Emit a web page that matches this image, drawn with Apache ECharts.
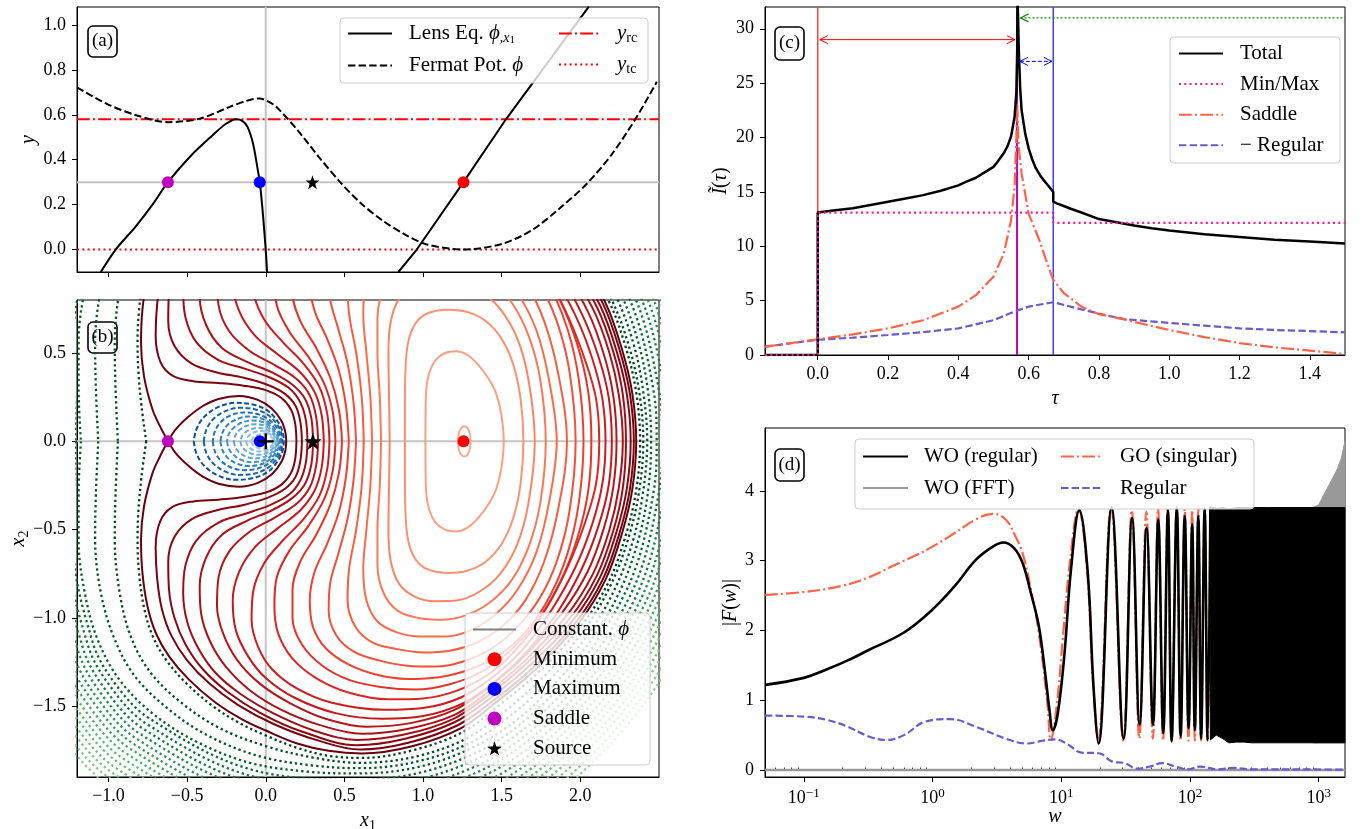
<!DOCTYPE html>
<html><head><meta charset="utf-8">
<script src="https://cdn.jsdelivr.net/npm/echarts@6/dist/echarts.min.js"></script>
<style>html,body{margin:0;padding:0;background:#fff}#c{width:1364px;height:829px}</style>
</head><body><div id="c"></div>
<script>
// ---------------- DATA ----------------
// (a) lens equation / Fermat potential along x1 (y_source = 0.3)
const lensEqLeft = [[-1.049,-0.1],[-0.954,0.0],[-0.83,0.1],[-0.72,0.2],[-0.622,0.3],[-0.473,0.42],[-0.338,0.509],[-0.257,0.558],[-0.189,0.58],[-0.149,0.573],[-0.116,0.546],[-0.081,0.472],[-0.054,0.368],[-0.038,0.30],[-0.022,0.189],[-0.008,0.07],[0.003,-0.034],[0.008,-0.1]];
const lensEqRight = [[0.843,-0.1],[0.96,0.0],[1.257,0.3],[1.527,0.58],[2.054,1.082]];
const fermatPot = [[-1.2,0.722],[-1.014,0.65],[-0.824,0.598],[-0.622,0.567],[-0.419,0.583],[-0.23,0.635],[-0.122,0.662],[-0.04,0.673],[0.014,0.66],[0.068,0.635],[0.203,0.531],[0.338,0.412],[0.473,0.30],[0.608,0.204],[0.743,0.129],[0.878,0.07],[1.014,0.025],[1.257,0.0],[1.5,0.025],[1.689,0.085],[1.878,0.189],[2.041,0.293],[2.203,0.427],[2.365,0.598],[2.486,0.747]];
const yRadialCaustic = 0.58;
const yTangentialCaustic = 0.0;
const sourceY = 0.3;
const imgMin = [1.257, 0.3], imgMax = [-0.038, 0.3], imgSaddle = [-0.622, 0.3], srcA = [0.297, 0.3];

// (b) stationary points in the lens plane
const bMin = [1.257, 0], bMax = [-0.038, 0], bSaddle = [-0.622, 0], bSource = [0.3, 0], bLens = [0, 0];
// contours, lower half (x2<=0), mirrored for the upper half
const redContoursLower = [
 [[1.222,0],[1.227,-0.045],[1.242,-0.075],[1.262,-0.086],[1.282,-0.075],[1.297,-0.045],[1.302,0]],
 [[1.015,0],[1.016,-0.15],[1.02,-0.29],[1.04,-0.39],[1.08,-0.46],[1.14,-0.5],[1.21,-0.51],[1.28,-0.49],[1.354,-0.43],[1.42,-0.35],[1.465,-0.27],[1.498,-0.15],[1.513,0]],
 [[0.885,0],[0.885,-0.2],[0.888,-0.4],[0.905,-0.56],[0.95,-0.665],[1.03,-0.725],[1.163,-0.745],[1.29,-0.73],[1.4,-0.68],[1.5,-0.58],[1.575,-0.43],[1.62,-0.24],[1.638,0]],
 [[0.788,0],[0.784,-0.25],[0.78,-0.5],[0.795,-0.68],[0.85,-0.81],[0.95,-0.88],[1.08,-0.905],[1.22,-0.9],[1.36,-0.85],[1.49,-0.75],[1.6,-0.58],[1.67,-0.35],[1.71,0]],
 [[0.733,0],[0.725,-0.25],[0.71,-0.5],[0.71,-0.7],[0.75,-0.86],[0.84,-0.96],[0.97,-1.0],[1.12,-1.01],[1.27,-0.985],[1.42,-0.915],[1.56,-0.79],[1.67,-0.6],[1.745,-0.35],[1.78,0]],
 [[0.676,0],[0.665,-0.25],[0.64,-0.5],[0.62,-0.72],[0.64,-0.9],[0.71,-1.02],[0.83,-1.08],[0.98,-1.105],[1.14,-1.105],[1.3,-1.07],[1.46,-0.98],[1.6,-0.84],[1.72,-0.63],[1.8,-0.35],[1.85,0]],
 [[0.623,0],[0.61,-0.25],[0.575,-0.5],[0.53,-0.72],[0.52,-0.9],[0.57,-1.05],[0.68,-1.14],[0.83,-1.175],[1.0,-1.195],[1.17,-1.185],[1.34,-1.14],[1.5,-1.05],[1.65,-0.9],[1.77,-0.68],[1.86,-0.38],[1.915,0]],
 [[0.574,0],[0.558,-0.22],[0.52,-0.44],[0.46,-0.64],[0.41,-0.8],[0.4,-0.96],[0.45,-1.1],[0.56,-1.19],[0.72,-1.24],[0.9,-1.27],[1.08,-1.275],[1.26,-1.245],[1.44,-1.17],[1.6,-1.05],[1.74,-0.89],[1.85,-0.68],[1.93,-0.4],[1.97,0]],
 [[0.528,0],[0.51,-0.2],[0.465,-0.4],[0.39,-0.58],[0.31,-0.74],[0.28,-0.9],[0.3,-1.05],[0.38,-1.17],[0.52,-1.26],[0.7,-1.32],[0.9,-1.345],[1.1,-1.335],[1.3,-1.29],[1.5,-1.2],[1.67,-1.06],[1.81,-0.87],[1.92,-0.63],[1.99,-0.35],[2.02,0]],
 [[0.485,0],[0.465,-0.18],[0.41,-0.36],[0.32,-0.53],[0.22,-0.68],[0.17,-0.84],[0.17,-1.0],[0.23,-1.15],[0.36,-1.27],[0.53,-1.35],[0.73,-1.39],[0.95,-1.405],[1.17,-1.375],[1.38,-1.3],[1.56,-1.18],[1.73,-1.01],[1.87,-0.8],[1.98,-0.55],[2.05,-0.28],[2.07,0]],
 [[0.443,0],[0.425,-0.17],[0.37,-0.33],[0.27,-0.48],[0.15,-0.62],[0.07,-0.77],[0.055,-0.93],[0.08,-1.09],[0.17,-1.23],[0.32,-1.34],[0.52,-1.42],[0.78,-1.46],[1.0,-1.455],[1.22,-1.41],[1.43,-1.31],[1.61,-1.16],[1.78,-0.95],[1.92,-0.71],[2.03,-0.46],[2.1,-0.24],[2.12,0]],
 [[0.405,0],[0.39,-0.16],[0.34,-0.31],[0.24,-0.44],[0.11,-0.56],[-0.01,-0.69],[-0.08,-0.85],[-0.09,-1.01],[-0.05,-1.16],[0.04,-1.29],[0.2,-1.4],[0.42,-1.48],[0.76,-1.52],[1.0,-1.51],[1.24,-1.45],[1.45,-1.33],[1.64,-1.17],[1.82,-0.95],[1.97,-0.71],[2.075,-0.47],[2.14,-0.24],[2.16,0]],
 [[0.369,0],[0.355,-0.15],[0.31,-0.28],[0.22,-0.39],[0.08,-0.49],[-0.07,-0.6],[-0.17,-0.74],[-0.21,-0.9],[-0.19,-1.07],[-0.11,-1.22],[0.0,-1.34],[0.18,-1.45],[0.45,-1.54],[0.74,-1.57],[1.0,-1.555],[1.26,-1.48],[1.47,-1.35],[1.67,-1.18],[1.86,-0.96],[2.01,-0.72],[2.115,-0.48],[2.18,-0.25],[2.2,0]],
 [[0.333,0],[0.32,-0.14],[0.28,-0.26],[0.2,-0.35],[0.06,-0.43],[-0.1,-0.51],[-0.23,-0.62],[-0.3,-0.77],[-0.31,-0.93],[-0.27,-1.09],[-0.18,-1.24],[-0.04,-1.37],[0.15,-1.48],[0.38,-1.57],[0.64,-1.615],[0.92,-1.595],[1.2,-1.52],[1.42,-1.39],[1.64,-1.22],[1.88,-0.975],[2.045,-0.74],[2.15,-0.49],[2.21,-0.255],[2.23,0]],
 [[0.3,0],[0.29,-0.13],[0.25,-0.24],[0.17,-0.32],[0.04,-0.39],[-0.12,-0.45],[-0.28,-0.53],[-0.38,-0.66],[-0.42,-0.82],[-0.41,-0.98],[-0.35,-1.14],[-0.25,-1.28],[-0.1,-1.41],[0.1,-1.52],[0.34,-1.605],[0.61,-1.655],[0.9,-1.628],[1.2,-1.548],[1.42,-1.415],[1.65,-1.24],[1.91,-0.99],[2.08,-0.75],[2.185,-0.5],[2.245,-0.26],[2.27,0]],
 [[0.265,0],[0.255,-0.12],[0.22,-0.22],[0.15,-0.3],[0.03,-0.36],[-0.13,-0.41],[-0.3,-0.46],[-0.44,-0.56],[-0.51,-0.7],[-0.525,-0.86],[-0.5,-1.02],[-0.43,-1.17],[-0.32,-1.31],[-0.16,-1.43],[0.05,-1.54],[0.3,-1.635],[0.58,-1.69],[0.88,-1.66],[1.19,-1.572],[1.42,-1.435],[1.66,-1.255],[1.935,-1.0],[2.105,-0.76],[2.21,-0.505],[2.27,-0.265],[2.29,0]],
 [[0.23,0],[0.22,-0.11],[0.19,-0.2],[0.12,-0.27],[0.01,-0.32],[-0.14,-0.36],[-0.31,-0.39],[-0.47,-0.44],[-0.58,-0.54],[-0.62,-0.68],[-0.615,-0.84],[-0.58,-1.0],[-0.51,-1.15],[-0.4,-1.29],[-0.24,-1.42],[-0.03,-1.54],[0.22,-1.64],[0.58,-1.72],[0.88,-1.685],[1.2,-1.59],[1.43,-1.452],[1.68,-1.268],[1.955,-1.01],[2.125,-0.77],[2.23,-0.512],[2.295,-0.27],[2.32,0]],
 [[0.195,0],[0.187,-0.1],[0.16,-0.18],[0.1,-0.245],[0.0,-0.29],[-0.14,-0.315],[-0.3,-0.33],[-0.46,-0.34],[-0.59,-0.37],[-0.67,-0.45],[-0.7,-0.6],[-0.69,-0.78],[-0.66,-0.95],[-0.6,-1.1],[-0.5,-1.24],[-0.36,-1.37],[-0.18,-1.49],[0.05,-1.6],[0.32,-1.69],[0.6,-1.745],[0.9,-1.708],[1.22,-1.607],[1.45,-1.465],[1.7,-1.28],[1.975,-1.02],[2.145,-0.777],[2.25,-0.516],[2.315,-0.27],[2.34,0]]
];
const saddleOuterLower = [[-0.622,0],[-0.675,-0.09],[-0.72,-0.18],[-0.774,-0.368],[-0.793,-0.556],[-0.784,-0.745],[-0.752,-0.934],[-0.699,-1.085],[-0.615,-1.217],[-0.488,-1.349],[-0.318,-1.48],[-0.148,-1.575],[0,-1.637],[0.2,-1.71],[0.4,-1.752],[0.61,-1.767],[0.93,-1.726],[1.248,-1.62],[1.46,-1.48],[1.714,-1.292],[1.99,-1.028],[2.16,-0.783],[2.265,-0.52],[2.33,-0.273],[2.355,0]];
const saddleInnerLower = [[-0.622,0],[-0.57,-0.07],[-0.49,-0.14],[-0.4,-0.2],[-0.3,-0.24],[-0.17,-0.257],[-0.05,-0.235],[0.04,-0.185],[0.1,-0.115],[0.125,-0.05],[0.13,0]];
const blueContoursLower = [
 [[-0.458,0],[-0.44,-0.07],[-0.39,-0.14],[-0.3,-0.195],[-0.19,-0.218],[-0.08,-0.208],[0.01,-0.175],[0.07,-0.12],[0.105,-0.06],[0.115,0]],
 [[-0.394,0],[-0.378,-0.065],[-0.335,-0.125],[-0.26,-0.17],[-0.17,-0.19],[-0.07,-0.182],[0.01,-0.152],[0.065,-0.105],[0.097,-0.052],[0.106,0]],
 [[-0.337,0],[-0.323,-0.058],[-0.285,-0.11],[-0.22,-0.148],[-0.14,-0.163],[-0.06,-0.156],[0.01,-0.13],[0.06,-0.09],[0.088,-0.045],[0.097,0]],
 [[-0.288,0],[-0.275,-0.05],[-0.24,-0.095],[-0.18,-0.127],[-0.11,-0.14],[-0.04,-0.133],[0.015,-0.11],[0.055,-0.075],[0.08,-0.038],[0.088,0]],
 [[-0.246,0],[-0.234,-0.043],[-0.2,-0.08],[-0.15,-0.107],[-0.09,-0.118],[-0.03,-0.112],[0.02,-0.092],[0.052,-0.062],[0.073,-0.032],[0.08,0]],
 [[-0.203,0],[-0.192,-0.036],[-0.165,-0.066],[-0.12,-0.088],[-0.07,-0.097],[-0.02,-0.092],[0.022,-0.075],[0.05,-0.05],[0.066,-0.026],[0.072,0]],
 [[-0.161,0],[-0.152,-0.029],[-0.128,-0.052],[-0.093,-0.069],[-0.053,-0.076],[-0.012,-0.072],[0.022,-0.058],[0.046,-0.039],[0.059,-0.02],[0.064,0]],
 [[-0.125,0],[-0.117,-0.022],[-0.098,-0.04],[-0.07,-0.053],[-0.038,-0.058],[-0.005,-0.055],[0.022,-0.044],[0.041,-0.029],[0.052,-0.015],[0.056,0]],
 [[-0.091,0],[-0.085,-0.016],[-0.07,-0.029],[-0.048,-0.038],[-0.023,-0.042],[0.003,-0.04],[0.024,-0.032],[0.038,-0.021],[0.046,-0.011],[0.048,0]]
];
const greenContoursLower = [
 [[-0.76,0],[-0.79,-0.2],[-0.81,-0.4],[-0.815,-0.56],[-0.805,-0.75],[-0.773,-0.945],[-0.72,-1.1],[-0.635,-1.235],[-0.505,-1.37],[-0.33,-1.503],[-0.155,-1.6],[0,-1.665],[0.2,-1.735],[0.4,-1.78],[0.61,-1.792],[0.93,-1.75],[1.255,-1.645],[1.475,-1.5],[1.73,-1.31],[2.005,-1.045],[2.18,-0.795],[2.29,-0.528],[2.355,-0.277],[2.38,0]],
 [[-0.94,0],[-0.955,-0.3],[-0.96,-0.55],[-0.93,-0.85],[-0.86,-1.1],[-0.74,-1.3],[-0.55,-1.47],[-0.3,-1.62],[0,-1.725],[0.3,-1.79],[0.6,-1.82],[0.95,-1.785],[1.28,-1.68],[1.53,-1.52],[1.78,-1.32],[2.03,-1.06],[2.2,-0.8],[2.31,-0.535],[2.375,-0.275],[2.40,0]],
 [[-1.065,0],[-1.08,-0.3],[-1.085,-0.55],[-1.05,-0.85],[-0.97,-1.1],[-0.84,-1.32],[-0.64,-1.5],[-0.38,-1.66],[-0.05,-1.78],[0.3,-1.835],[0.6,-1.85],[0.95,-1.815],[1.29,-1.71],[1.56,-1.55],[1.81,-1.345],[2.06,-1.08],[2.23,-0.815],[2.34,-0.545],[2.4,-0.28],[2.425,0]],
 [[-1.175,0],[-1.19,-0.3],[-1.19,-0.56],[-1.15,-0.86],[-1.07,-1.12],[-0.93,-1.35],[-0.72,-1.54],[-0.44,-1.7],[-0.1,-1.82],[0.27,-1.87],[0.6,-1.88],[0.96,-1.845],[1.3,-1.74],[1.59,-1.58],[1.84,-1.37],[2.09,-1.1],[2.26,-0.83],[2.37,-0.555],[2.43,-0.285],[2.45,0]],
 [[-1.21,0],[-1.225,-0.564],[-1.100,-1.138],[-0.955,-1.375],[-0.739,-1.569],[-0.107,-1.854],[0.6,-1.915],[1.314,-1.772],[1.864,-1.396],[2.291,-0.846],[2.465,-0.289],[2.485,0]],
 [[-1.245,0],[-1.26,-0.567],[-1.130,-1.155],[-0.979,-1.399],[-0.759,-1.598],[-0.114,-1.889],[0.6,-1.95],[1.328,-1.804],[1.888,-1.421],[2.322,-0.863],[2.499,-0.293],[2.52,0]],
 [[-1.28,0],[-1.294,-0.571],[-1.161,-1.173],[-1.004,-1.424],[-0.778,-1.628],[-0.121,-1.923],[0.6,-1.985],[1.342,-1.836],[1.912,-1.447],[2.353,-0.879],[2.534,-0.298],[2.555,0]],
 [[-1.315,0],[-1.329,-0.574],[-1.191,-1.191],[-1.029,-1.449],[-0.797,-1.657],[-0.128,-1.957],[0.6,-2.02],[1.356,-1.868],[1.935,-1.472],[2.383,-0.896],[2.569,-0.302],[2.59,0]],
 [[-1.35,0],[-1.364,-0.578],[-1.221,-1.209],[-1.054,-1.474],[-0.817,-1.686],[-0.135,-1.992],[0.6,-2.055],[1.370,-1.9],[1.959,-1.498],[2.414,-0.912],[2.603,-0.306],[2.625,0]],
 [[-1.385,0],[-1.399,-0.581],[-1.251,-1.226],[-1.078,-1.498],[-0.836,-1.715],[-0.142,-2.026],[0.6,-2.09],[1.384,-1.933],[1.983,-1.524],[2.445,-0.929],[2.638,-0.31],[2.66,0]],
 [[-1.42,0],[-1.434,-0.585],[-1.281,-1.244],[-1.103,-1.523],[-0.855,-1.744],[-0.149,-2.06],[0.6,-2.125],[1.398,-1.965],[2.007,-1.549],[2.476,-0.945],[2.673,-0.314],[2.695,0]],
 [[-1.455,0],[-1.469,-0.588],[-1.311,-1.262],[-1.128,-1.548],[-0.875,-1.774],[-0.156,-2.094],[0.6,-2.16],[1.412,-1.997],[2.031,-1.575],[2.507,-0.962],[2.707,-0.319],[2.73,0]],
 [[-1.49,0],[-1.503,-0.592],[-1.342,-1.28],[-1.153,-1.573],[-0.894,-1.803],[-0.163,-2.129],[0.6,-2.195],[1.426,-2.029],[2.055,-1.601],[2.538,-0.978],[2.742,-0.323],[2.765,0]],
 [[-1.525,0],[-1.538,-0.595],[-1.372,-1.297],[-1.177,-1.597],[-0.913,-1.832],[-0.17,-2.163],[0.6,-2.23],[1.44,-2.061],[2.079,-1.626],[2.569,-0.995],[2.777,-0.327],[2.8,0]],
 [[-1.56,0],[-1.573,-0.599],[-1.402,-1.315],[-1.202,-1.622],[-0.933,-1.861],[-0.177,-2.197],[0.6,-2.265],[1.454,-2.093],[2.103,-1.652],[2.6,-1.011],[2.811,-0.331],[2.835,0]],
 [[-1.595,0],[-1.608,-0.602],[-1.432,-1.333],[-1.227,-1.647],[-0.952,-1.89],[-0.184,-2.232],[0.6,-2.3],[1.468,-2.125],[2.126,-1.677],[2.63,-1.028],[2.846,-0.335],[2.87,0]],
 [[-1.63,0],[-1.643,-0.606],[-1.462,-1.351],[-1.252,-1.672],[-0.971,-1.919],[-0.191,-2.266],[0.6,-2.335],[1.482,-2.157],[2.15,-1.703],[2.661,-1.044],[2.88,-0.34],[2.905,0]],
 [[-1.665,0],[-1.678,-0.609],[-1.492,-1.368],[-1.276,-1.696],[-0.99,-1.949],[-0.198,-2.3],[0.6,-2.37],[1.496,-2.189],[2.174,-1.729],[2.692,-1.061],[2.915,-0.344],[2.94,0]]
];

// (c) I(tau)
const cTotal = [[-0.15,0],[0,0],[0,13.1],[0.05,13.3],[0.1,13.5],[0.15,13.8],[0.2,14.1],[0.25,14.4],[0.3,14.7],[0.35,15.1],[0.4,15.6],[0.42,15.9],[0.45,16.3],[0.47,16.7],[0.5,17.3],[0.51,17.7],[0.53,18.6],[0.54,19.2],[0.55,20.1],[0.56,21.9],[0.565,24.1],[0.5675,28],[0.5685,33],[0.5695,33],[0.572,28],[0.576,24.5],[0.58,22.5],[0.59,20.4],[0.6,19.0],[0.61,18.0],[0.62,17.2],[0.635,16.4],[0.65,15.8],[0.67,15.0],[0.67,14.1],[0.68,13.95],[0.7,13.7],[0.72,13.45],[0.75,13.1],[0.8,12.5],[0.85,12.2],[0.9,11.9],[0.95,11.65],[1.0,11.45],[1.1,11.1],[1.2,10.85],[1.3,10.6],[1.4,10.43],[1.5,10.25]];
const cMinMax = [[-0.15,0],[0,0],[0,13.1],[0.67,13.1],[0.67,12.15],[1.5,12.15]];
const cSaddle = [[-0.15,0.75],[0,1.45],[0.1,1.9],[0.2,2.45],[0.3,3.2],[0.4,4.45],[0.45,5.5],[0.5,7.2],[0.53,9.4],[0.55,12.4],[0.56,15.5],[0.565,19.8],[0.567,23.2],[0.572,19.0],[0.58,16.7],[0.6,13.0],[0.63,10.6],[0.65,8.7],[0.67,6.9],[0.7,5.7],[0.75,4.45],[0.8,3.75],[0.872,3.28],[0.9,3.05],[1.0,2.3],[1.1,1.65],[1.2,1.1],[1.3,0.7],[1.4,0.4],[1.5,0.1]];
const cRegular = [[-0.15,0.77],[0,1.4],[0.1,1.6],[0.2,1.84],[0.3,2.1],[0.4,2.45],[0.5,3.2],[0.56,4.0],[0.6,4.45],[0.67,4.85],[0.75,4.2],[0.8,3.8],[0.872,3.3],[1.0,2.95],[1.1,2.7],[1.2,2.45],[1.3,2.3],[1.4,2.2],[1.5,2.08]];
const cCritTau = [0, 0.567, 0.67];           // min, saddle, max time delays
const cArrowMinSaddle = [[0.006, 0.561, 29]];
const cArrowSaddleMax = [[0.575, 0.666, 27]];
const cArrowTail = [[0.577, 1.5, 31]];

// (d) |F(w)|
const dWO = [[0.05,1.22],[0.1,1.32],[0.15,1.44],[0.22,1.57],[0.32,1.72],[0.6,1.97],[1.0,2.3],[1.48,2.63],[2.17,3.01],[2.94,3.2],[3.55,3.26],[4.3,3.18],[5.0,2.97],[5.8,2.54],[6.7,2.06],[7.5,1.39],[8.1,0.86],[8.6,0.57],[9.4,0.81],[10.6,1.67],[11.9,2.87],[13.8,3.72],[16.0,2.87],[17.8,1.2],[19.5,0.38],[24.6,3.76],[30.5,0.45],[35.5,3.61],[40.6,0.65],[46,3.47],[51.6,0.65],[56.7,3.59],[62,0.53],[67.4,3.72],[72,0.41],[79,3.76],[84.6,0.48],[91,3.64],[97.5,0.6],[104,3.52],[109,0.57],[116,3.64],[122,0.45],[130,3.74],[137,0.43],[144,3.77]];
const dWOBandW = [144,160,180,200,230,260,300,400,600,1000,1600];
const dWOBandLow = [0.43,0.5,0.45,0.39,0.4,0.4,0.39,0.39,0.39,0.39,0.39];
const dWOBandHigh = [3.77,3.75,3.76,3.74,3.76,3.76,3.76,3.76,3.76,3.76,3.76];
const dFFTBandW = [900,1000,1100,1200,1300,1400,1500,1600];
const dFFTBandLow = [0.39,0.39,0.39,0.39,0.39,0.39,0.39,0.39];
const dFFTBandHigh = [3.76,3.8,3.95,4.08,4.2,4.32,4.47,4.72];
const dFFTZero = [[0.05,0],[1600,0]];
const dGO = [[0.05,2.51],[0.1,2.55],[0.2,2.64],[0.32,2.76],[0.5,2.93],[0.75,3.08],[1,3.2],[1.5,3.4],[2.17,3.59],[2.94,3.67],[3.7,3.59],[4.4,3.35],[5,3.11],[5.8,2.6],[6.7,1.96],[7.8,0.96],[8.3,0.43],[9.2,0.9],[10.3,1.9],[11.7,3.0],[13.6,3.74],[15.8,2.9],[17.6,1.3],[19.3,0.42],[24.4,3.76],[30.3,0.42],[35.3,3.72],[40.4,0.45],[45.8,3.7],[51.5,0.45],[56.5,3.74],[61.8,0.42],[67.2,3.76],[72,0.42],[78.8,3.76],[84.5,0.42],[91,3.74],[97.3,0.42],[104,3.72],[109,0.42],[116,3.74],[122,0.42],[130,3.76],[137,0.42],[144,3.76]];
const dRegular = [[0.05,0.78],[0.1,0.765],[0.15,0.72],[0.22,0.62],[0.32,0.48],[0.44,0.43],[0.6,0.5],[0.87,0.69],[1.37,0.73],[2.17,0.62],[3.7,0.45],[5.4,0.38],[7.2,0.42],[9,0.44],[11.4,0.36],[14.3,0.25],[19.6,0.24],[24.9,0.12],[31,0.1],[39,0.02],[49,0.05],[61,0.1],[77,0.05],[96,0.01],[120,0.05],[163,0.01],[220,0.03],[300,0.01],[500,0.01],[1600,0.005]];

// tick values
const xTicksAB = [-1.0,-0.5,0,0.5,1.0,1.5,2.0];
const yTicksA = [0,0.2,0.4,0.6,0.8,1.0];
const yTicksB = [-1.5,-1.0,-0.5,0,0.5];
const xTicksC = [0,0.2,0.4,0.6,0.8,1.0,1.2,1.4];
const yTicksC = [0,5,10,15,20,25,30];
const xTicksD = [0.1,1,10,100,1000];
const xMinorD = [0.06,0.07,0.08,0.09,0.2,0.3,0.4,0.5,0.6,0.7,0.8,0.9,2,3,4,5,6,7,8,9,20,30,40,50,60,70,80,90,200,300,400,500,600,700,800,900];
const yTicksD = [0,1,2,3,4];

// ---------------- STYLE ----------------
const FONT = '"Liberation Serif", "DejaVu Serif", serif';
const redColors = ['#fcaa8d','#fc9f81','#fc9272','#fc8565','#fb7858','#fb6b4b','#f85d42','#f44f39','#f04130','#e63328','#da2723','#cf1c1f','#c6171c','#b91419','#ac1117','#a00e15','#8a0712','#780410'];
const saddleColor = '#67000d';
const blueColors = ['#08519c','#1361a9','#2171b5','#3282be','#4292c6','#5ba3d0','#6baed6','#89bedc','#9ecae1'];
const greenColors = ['#00441b','#004d20','#005724','#006128','#006b2b','#0b7533','#177e3a','#238b45','#2e934c','#3a9c54','#41ab5d','#4eb365','#5bba6d','#66bf72','#70c375','#7bc87c','#84cc83','#8ed08b'];
const DASH = [7.4,3.2], DOT = [2,3.3], DASHDOT = [12.8,3.2,2,3.2];
const STAR = 'path://M0,-10L2.35,-3.24L9.51,-3.09L3.8,1.24L5.88,8.09L0,4L-5.88,8.09L-3.8,1.24L-9.51,-3.09L-2.35,-3.24Z';
const PLUS = 'path://M6,0H8V6H14V8H8V14H6V8H0V6H6Z';

function mirrorLoop(lower){
  const up = lower.slice(0,-1).reverse().map(p=>[p[0],-p[1]]);
  return lower.concat(up);
}
function minusFmt(d){ return v => (v<0?'\u2212':'') + Math.abs(v).toFixed(d); }
function lineS(name, xi, yi, data, color, width, dash, extra){
  return Object.assign({type:'line', name:name, xAxisIndex:xi, yAxisIndex:yi, data:data, showSymbol:false, symbol:'none',
    smooth:false, silent:true, lineStyle:{color:color, width:width, type:dash||'solid', cap:'butt'}, itemStyle:{color:color},
    emphasis:{disabled:true}, z:2}, extra||{});
}
function scatS(name, xi, yi, pt, color, symbol, size){
  return {type:'scatter', name:name, xAxisIndex:xi, yAxisIndex:yi, data:[pt], symbol:symbol, symbolSize:size,
    itemStyle:{color:color, opacity:1}, silent:true, z:6, emphasis:{disabled:true}};
}
function axisBase(min, max, ticks, fmt, showLabel, margin, extra){
  return Object.assign({type:'value', min:min, max:max, splitLine:{show:false}, nameMoveOverlap:false,
    axisLine:{show:true, onZero:false, lineStyle:{color:'#000', width:1}},
    axisTick:{show:true, length:5, inside:false, customValues:ticks, lineStyle:{color:'#000', width:1}},
    axisLabel:{show:showLabel, customValues:ticks, formatter:fmt, color:'#000', fontFamily:FONT, fontSize:18, margin:margin}
  }, extra||{});
}
const nameStyle = {fontFamily:FONT, fontSize:20, color:'#000', rich:{
  i:{fontFamily:FONT, fontSize:20, fontStyle:'italic', color:'#000'},
  n:{fontFamily:FONT, fontSize:20, color:'#000'},
  s:{fontFamily:FONT, fontSize:14, color:'#000', padding:[10,0,0,0]}}};

// ---------------- SERIES ----------------
const series = [];
// (a)
series.push(lineS('aRefV',0,0,[[0,-0.1],[0,1.08]],'#c4c4c4',2));
series.push(lineS('aRefH',0,0,[[-1.2,sourceY],[2.5,sourceY]],'#c4c4c4',2));
series.push(lineS('yrc',0,0,[[-1.2,yRadialCaustic],[2.5,yRadialCaustic]],'#ff0000',2,DASHDOT));
series.push(lineS('ytc',0,0,[[-1.2,yTangentialCaustic],[2.5,yTangentialCaustic]],'#ff0000',2,DOT));
series.push(lineS('fermat',0,0,fermatPot,'#000',2,DASH,{smooth:0.3}));
series.push(lineS('lens',0,0,lensEqLeft,'#000',2,null,{smooth:0.3}));
series.push(lineS('lens',0,0,lensEqRight,'#000',2));
series.push(scatS('aSad',0,0,imgSaddle,'#bf00bf','circle',12));
series.push(scatS('aMax',0,0,imgMax,'#0000ff','circle',12));
series.push(scatS('aMin',0,0,imgMin,'#ff0000','circle',12));
series.push(scatS('aSrc',0,0,srcA,'#000',STAR,14));

// (b)
series.push(lineS('bRefV',1,1,[[0,-1.9],[0,0.8]],'#c4c4c4',2));
series.push(lineS('bRefH',1,1,[[-1.2,0],[2.5,0]],'#c4c4c4',2));
greenContoursLower.forEach((c,i)=>series.push(lineS('g'+i,1,1,mirrorLoop(c),greenColors[i],2.3,[2.3,3],{smooth:0.35})));
redContoursLower.forEach((c,i)=>series.push(lineS('r'+i,1,1,mirrorLoop(c),redColors[i],2,null,{smooth:0.35})));
series.push(lineS('sOut',1,1,mirrorLoop(saddleOuterLower),saddleColor,2,null,{smooth:0.35}));
series.push(lineS('sIn',1,1,mirrorLoop(saddleInnerLower),saddleColor,2,null,{smooth:0.35}));
blueContoursLower.forEach((c,i)=>series.push(lineS('b'+i,1,1,mirrorLoop(c),blueColors[i],2,[5,2.5],{smooth:0.35})));
series.push(lineS('Constant. \u03d5',1,1,[],'#808080',3));
series.push(scatS('Minimum',1,1,bMin,'#ff0000','circle',12));
series.push(scatS('Maximum',1,1,bMax,'#0000ff','circle',12));
series.push(scatS('Saddle',1,1,bSaddle,'#bf00bf','circle',12));
series.push(scatS('bLens',1,1,bLens,'#000',PLUS,16));
series.push(scatS('Source',1,1,bSource,'#000',STAR,17));

// (c)
series.push(lineS('cV0',2,2,[[cCritTau[0],0],[cCritTau[0],32]],'#ff4040',1.5));
series.push(lineS('cV1',2,2,[[cCritTau[1],0],[cCritTau[1],32]],'#bf00bf',2));
series.push(lineS('cV2',2,2,[[cCritTau[2],0],[cCritTau[2],32]],'#4040ff',1.5));
series.push(lineS('RegularC',2,2,cRegular,'#6a5acd',2.2,[7.4,3.2]));
series.push(lineS('SaddleC',2,2,cSaddle,'#ff6347',2.2,DASHDOT));
series.push(lineS('Total',2,2,cTotal,'#000',2.5));
series.push(lineS('Min/Max',2,2,cMinMax,'#ff1493',2.2,DOT));
function arrowRender(color, dash, both, lw){
  return function(params, api){
    const a = api.coord([api.value(0), api.value(2)]);
    const b = api.coord([api.value(1), api.value(2)]);
    const L = 8, W = 4;
    const st = {stroke:color, lineWidth:lw||1, fill:'none', lineDash:dash};
    const hs = {stroke:color, lineWidth:lw||1, fill:'none'};
    const ch = [{type:'line', shape:{x1:a[0],y1:a[1],x2:b[0],y2:b[1]}, style:st},
      {type:'polyline', shape:{points:[[a[0]+L,a[1]-W],[a[0],a[1]],[a[0]+L,a[1]+W]]}, style:hs}];
    if (both) ch.push({type:'polyline', shape:{points:[[b[0]-L,b[1]-W],[b[0],b[1]],[b[0]-L,b[1]+W]]}, style:hs});
    return {type:'group', children:ch};
  };
}
series.push({type:'custom', name:'arrR', xAxisIndex:2, yAxisIndex:2, data:cArrowMinSaddle, encode:{x:[0,1],y:2}, renderItem:arrowRender('#ff0000',null,true), silent:true, z:7});
series.push({type:'custom', name:'arrB', xAxisIndex:2, yAxisIndex:2, data:cArrowSaddleMax, encode:{x:[0,1],y:2}, renderItem:arrowRender('#0000ff',[4,2],true), silent:true, z:7});
series.push({type:'custom', name:'arrG', xAxisIndex:2, yAxisIndex:2, data:cArrowTail, encode:{x:[0,1],y:2}, renderItem:arrowRender('#1a8c1a',[2,2],false,1.3), silent:true, z:7});

// (d)
function bandRender(xs, lo, hi, fill){
  return function(params, api){
    const pts = [];
    for (let i=0;i<xs.length;i++) pts.push(api.coord([xs[i], hi[i]]));
    for (let i=xs.length-1;i>=0;i--) pts.push(api.coord([xs[i], lo[i]]));
    return {type:'polygon', shape:{points:pts}, style:{fill:fill, stroke:fill, lineWidth:1}};
  };
}
series.push(lineS('WO (FFT)',3,3,dFFTZero,'#999999',2.5));
series.push({type:'custom', name:'fftBand', xAxisIndex:3, yAxisIndex:3, data:[[dFFTBandW[0], dFFTBandLow[0]]], renderItem:bandRender(dFFTBandW,dFFTBandLow,dFFTBandHigh,'#999999'), silent:true, z:2});
series.push(lineS('GO (singular)',3,3,dGO,'#ff6347',2.2,DASHDOT,{smooth:0.4}));
series.push(lineS('WO (regular)',3,3,dWO,'#000',2.6,null,{smooth:0.4, z:3}));
series.push({type:'custom', name:'woBand', xAxisIndex:3, yAxisIndex:3, data:[[dWOBandW[0], dWOBandLow[0]]], renderItem:bandRender(dWOBandW,dWOBandLow,dWOBandHigh,'#000'), silent:true, z:3});
series.push(lineS('RegularD',3,3,dRegular,'#6a5acd',2.2,[7.4,3.2],{smooth:0.4, z:4}));

// ---------------- LEGENDS ----------------
const legRich = {
  it:{fontFamily:FONT, fontSize:21, fontStyle:'italic', color:'#000'},
  sub:{fontFamily:FONT, fontSize:14, color:'#000', padding:[9,0,0,0]},
  subi:{fontFamily:FONT, fontSize:14, fontStyle:'italic', color:'#000', padding:[9,0,0,0]},
  ss:{fontFamily:FONT, fontSize:11, color:'#000', padding:[14,0,0,0]}
};
const legNames = {
  'lens':'Lens Eq. {it|\u03d5}{sub|,}{subi|x}{ss|1}', 'fermat':'Fermat Pot. {it|\u03d5}',
  'yrc':'{it|y}{sub|rc}', 'ytc':'{it|y}{sub|tc}',
  'Constant. \u03d5':'Constant. {it|\u03d5}',
  'SaddleC':'Saddle', 'RegularC':'\u2212 Regular', 'RegularD':'Regular'
};
const lineItem = n => ({name:n, itemStyle:{opacity:0}});
function legend(left, top, data, gap, pad, iw){
  return {orient:'vertical', left:left, top:top, data:data, itemWidth:iw||44, itemHeight:14, itemGap:gap, padding:0,
    selectedMode:false, z:20, formatter:n=>legNames[n]||n,
    textStyle:{fontFamily:FONT, fontSize:21, color:'#000', lineHeight:21, padding:[0,0,0,pad], rich:legRich}};
}
const legends = [
  legend(347, 23, ['lens','fermat'].map(lineItem), 9, 12, 44),
  legend(558, 23, ['yrc','ytc'].map(lineItem), 9, 11, 42),
  legend(472, 619, [lineItem('Constant. \u03d5'),'Minimum','Maximum','Saddle','Source'], 8.7, 12, 43),
  legend(1178, 43, ['Total','Min/Max','SaddleC','RegularC'].map(lineItem), 9.6, 12, 44),
  legend(862, 446, ['WO (regular)','WO (FFT)'].map(lineItem), 10.6, 11, 45),
  legend(1060, 446, ['GO (singular)','RegularD'].map(lineItem), 10.6, 12, 42)
];

// ---------------- GRAPHIC (legend frames, panel tags) ----------------
function frame(x,y,w,h,fill){ return {type:'rect', shape:{x:x,y:y,width:w,height:h,r:4}, style:{fill:fill||'rgba(255,255,255,0.8)', stroke:'#cccccc', lineWidth:1}, z:15, silent:true}; }
function tag(x,y,w,h,t){ return {type:'group', z:16, silent:true, children:[
  {type:'rect', shape:{x:x,y:y,width:w,height:h,r:5}, style:{fill:'#fff', stroke:'#000', lineWidth:1.6}},
  {type:'text', style:{text:t, x:x+w/2, y:y+h/2, textAlign:'center', textVerticalAlign:'middle', align:'center', verticalAlign:'middle', font:'19px '+FONT, fill:'#000'}}]}; }
const graphics = [
  frame(340,18,308,65), frame(465,613,185,152), frame(1170,37,170,126), frame(855,439,399,70),
  tag(88,26,29,31,'(a)'), tag(88,322,29,31,'(b)'), tag(775,27,29,33,'(c)'), tag(775,449,29,32,'(d)')
];

// ---------------- OPTION ----------------
const gridBase = {show:true, borderColor:'#000', borderWidth:1, backgroundColor:'transparent', containLabel:false, outerBoundsMode:'none'};
const option = {
  animation:false,
  textStyle:{fontFamily:FONT},
  grid:[
    Object.assign({left:77, top:7, width:582, height:265}, gridBase),
    Object.assign({left:77, top:300, width:582, height:477}, gridBase),
    Object.assign({left:765, top:7, width:580, height:348}, gridBase),
    Object.assign({left:765, top:428, width:580, height:349}, gridBase)
  ],
  xAxis:[
    axisBase(-1.2, 2.5, xTicksAB, minusFmt(1), false, 10, {gridIndex:0}),
    axisBase(-1.2, 2.5, xTicksAB, minusFmt(1), true, 10, {gridIndex:1, name:'{i|x}{s|1}', nameLocation:'middle', nameGap:32, nameTextStyle:nameStyle}),
    axisBase(-0.15, 1.5, xTicksC, minusFmt(1), true, 10, {gridIndex:2, name:'{i|\u03c4}', nameLocation:'middle', nameGap:34, nameTextStyle:nameStyle}),
    {type:'log', logBase:10, gridIndex:3, min:0.05, max:1600, splitLine:{show:false}, nameMoveOverlap:false,
     axisLine:{show:true, onZero:false, lineStyle:{color:'#000', width:1}},
     axisTick:{show:true, length:5, customValues:xTicksD, lineStyle:{color:'#000', width:1}},
     axisLabel:{show:true, customValues:xTicksD, color:'#000', margin:10,
       formatter:v=>{const e=Math.round(Math.log10(v)); return '{b|10}{e|'+(e<0?'\u2212':'')+Math.abs(e)+'}';},
       rich:{b:{fontFamily:FONT, fontSize:18, color:'#000'}, e:{fontFamily:FONT, fontSize:13, color:'#000', padding:[0,0,10,0]}}},
     name:'{i|w}', nameLocation:'middle', nameGap:30, nameTextStyle:nameStyle},
    {type:'log', logBase:10, gridIndex:3, min:0.05, max:1600, splitLine:{show:false},
     axisLine:{show:false}, axisTick:{show:true, length:2.5, customValues:xMinorD, lineStyle:{color:'#000', width:0.8}},
     axisLabel:{show:false}}
  ],
  yAxis:[
    axisBase(-0.1, 1.08, yTicksA, minusFmt(1), true, 11, {gridIndex:0, name:'{i|y}', nameLocation:'middle', nameGap:38, nameTextStyle:nameStyle}),
    axisBase(-1.9, 0.8, yTicksB, minusFmt(1), true, 11, {gridIndex:1, name:'{i|x}{s|2}', nameLocation:'middle', nameGap:46, nameTextStyle:nameStyle}),
    axisBase(0, 32, yTicksC, v=>String(v), true, 11, {gridIndex:2, name:'{i|\u0128}{n|(}{i|\u03c4}{n|)}', nameLocation:'middle', nameGap:34, nameTextStyle:nameStyle}),
    axisBase(-0.1, 4.9, yTicksD, v=>String(v), true, 11, {gridIndex:3, name:'{n||}{i|F}{n|(}{i|w}{n|)|}', nameLocation:'middle', nameGap:24, nameTextStyle:nameStyle})
  ],
  legend:legends,
  graphic:graphics,
  series:series
};
const chart = echarts.init(document.getElementById('c'), null, {renderer:'canvas', width:1364, height:829});
chart.setOption(option);
</script>
</body></html>
